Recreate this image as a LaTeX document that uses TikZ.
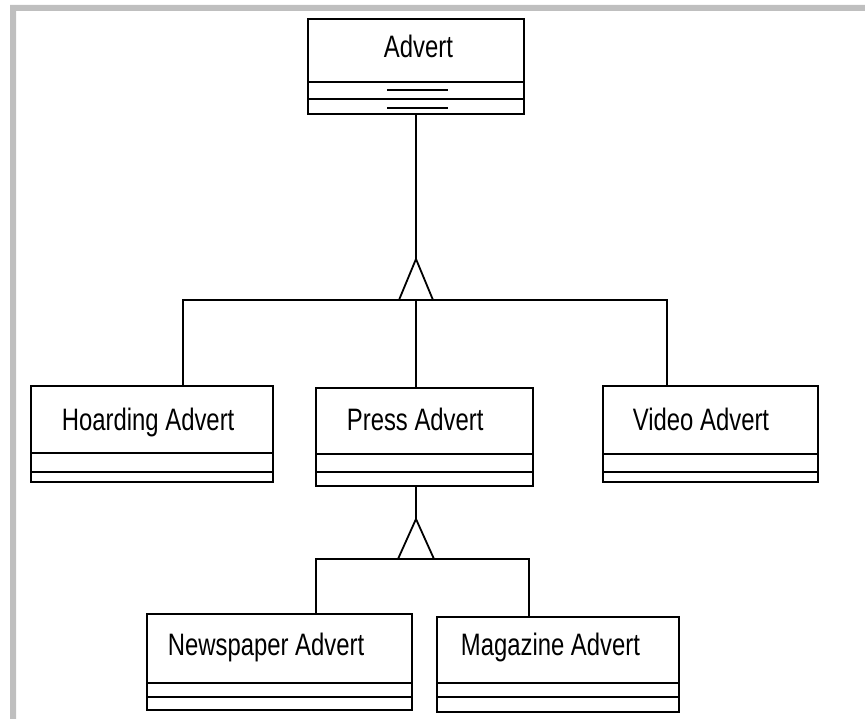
\documentclass[tikz,border=0pt]{standalone}
\usepackage{fontspec}
\setmainfont[FakeStretch=0.77]{Liberation Sans}
\usepackage{tikz}
\usetikzlibrary{fit}

\begin{document}
\begin{tikzpicture}[x=1pt,y=-1pt,line width=1.8pt,
  classbox/.style={draw,inner sep=0pt,fit={#1}},
  classname/.style={anchor=base west,inner sep=0pt,font=\fontsize{31}{36}\selectfont}]
\useasboundingbox (0,0) rectangle (865,719);

% frame
\fill[gray!50] (10,5) rectangle (865,11)
(10,5) rectangle (16,719);

% classes
\node[classbox={(308,19) (524,114)}] (advert) {};
\node[classbox={(31,386) (273,482)}] (hoard) {};
\node[classbox={(316,388) (533,486)}] (press) {};
\node[classbox={(603,386) (818,482)}] (video) {};
\node[classbox={(147,614) (412,710)}] (news) {};
\node[classbox={(437,617) (679,712)}] (mag) {};

\node[classname] (advertname) at (383,58) {Advert};
\node[classname] (hoardname) at (61,430) {Hoarding Advert};
\node[classname] (pressname) at (346,430) {Press Advert};
\node[classname] (videoname) at (632,430) {Video Advert};
\node[classname] (newsname) at (167,655) {Newspaper Advert};
\node[classname] (magname) at (460,655) {Magazine Advert};

% compartments
\foreach \c/\u/\l in {advert/33/16,hoard/30/11,press/33/15,video/29/11,news/28/14,mag/30/16}
  \draw ([yshift=\u pt]\c.south west) -- ([yshift=\u pt]\c.south east)
        ([yshift=\l pt]\c.south west) -- ([yshift=\l pt]\c.south east);
\draw ([xshift=-29pt,yshift=25pt]advert.south) -- ++(61,0)
      ([xshift=-29pt,yshift=7pt]advert.south) -- ++(61,0);

% generalisation
\coordinate (gen1) at (416,259);
\coordinate (bar1) at (416,300);
\coordinate (bar1w) at (183,300);
\coordinate (bar1e) at (667,300);
\draw (advert.south) -- (gen1);
\draw (gen1) -- ++(-17,41) -- ++(34,0) -- cycle;
\draw (hoard.north -| bar1w) -- (bar1w) -- (bar1e) -- (video.north -| bar1e);
\draw (bar1) -- (bar1 |- press.north);

\coordinate (gen2) at (416,519);
\coordinate (bar2w) at (316,559);
\coordinate (bar2e) at (529,559);
\draw (press.south -| gen2) -- (gen2);
\draw (gen2) -- ++(-18,40) -- ++(36,0) -- cycle;
\draw (news.north -| bar2w) -- (bar2w) -- (bar2e) -- (mag.north -| bar2e);
\end{tikzpicture}
\end{document}
